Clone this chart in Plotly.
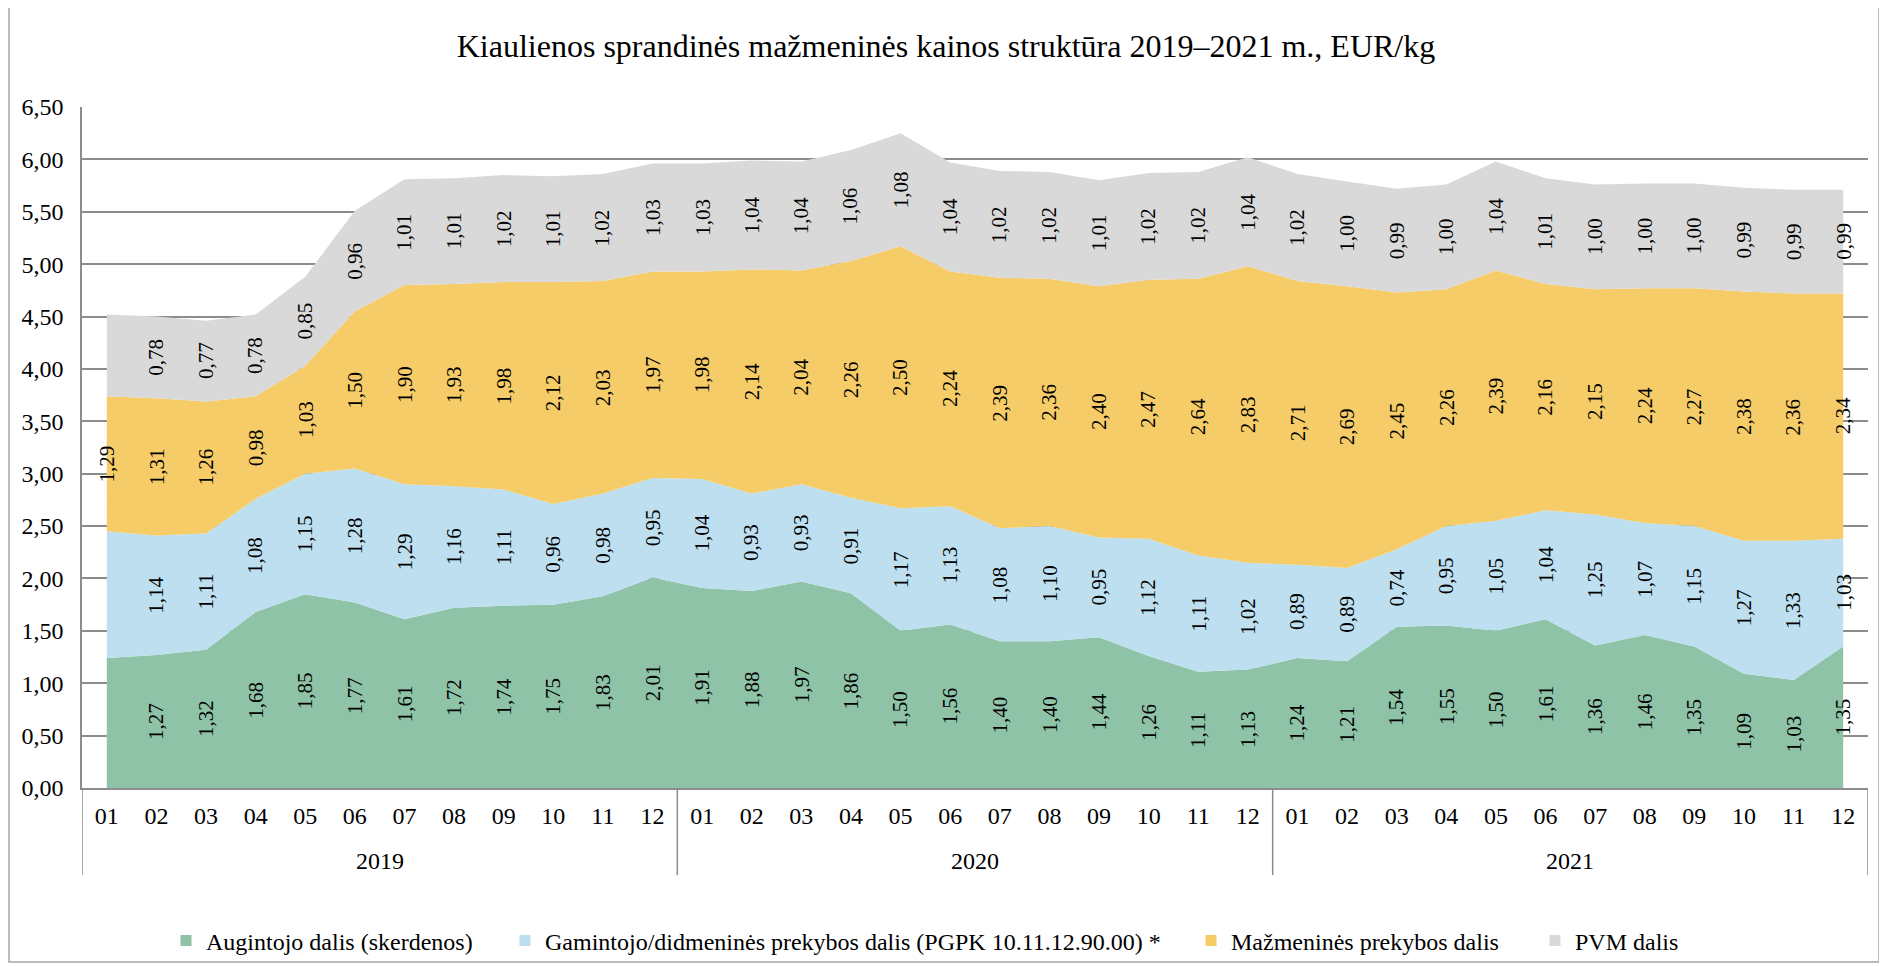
import plotly.graph_objects as go

# ---------------- data ----------------
years = ["2019", "2020", "2021"]
months = ["01", "02", "03", "04", "05", "06", "07", "08", "09", "10", "11", "12"]

series_names = [
    "Augintojo dalis (skerdenos)",
    "Gamintojo/didmeninės prekybos dalis (PGPK 10.11.12.90.00) *",
    "Mažmeninės prekybos dalis",
    "PVM dalis",
]

augintojo = [1.24, 1.27, 1.32, 1.68, 1.85, 1.77, 1.61, 1.72, 1.74, 1.75, 1.83, 2.01,
             1.91, 1.88, 1.97, 1.86, 1.50, 1.56, 1.40, 1.40, 1.44, 1.26, 1.11, 1.13,
             1.24, 1.21, 1.54, 1.55, 1.50, 1.61, 1.36, 1.46, 1.35, 1.09, 1.03, 1.35]
gamintojo = [1.21, 1.14, 1.11, 1.08, 1.15, 1.28, 1.29, 1.16, 1.11, 0.96, 0.98, 0.95,
             1.04, 0.93, 0.93, 0.91, 1.17, 1.13, 1.08, 1.10, 0.95, 1.12, 1.11, 1.02,
             0.89, 0.89, 0.74, 0.95, 1.05, 1.04, 1.25, 1.07, 1.15, 1.27, 1.33, 1.03]
mazmenines = [1.29, 1.31, 1.26, 0.98, 1.03, 1.50, 1.90, 1.93, 1.98, 2.12, 2.03, 1.97,
              1.98, 2.14, 2.04, 2.26, 2.50, 2.24, 2.39, 2.36, 2.40, 2.47, 2.64, 2.83,
              2.71, 2.69, 2.45, 2.26, 2.39, 2.16, 2.15, 2.24, 2.27, 2.38, 2.36, 2.34]
pvm = [0.78, 0.78, 0.77, 0.78, 0.85, 0.96, 1.01, 1.01, 1.02, 1.01, 1.02, 1.03,
       1.03, 1.04, 1.04, 1.06, 1.08, 1.04, 1.02, 1.02, 1.01, 1.02, 1.02, 1.04,
       1.02, 1.00, 0.99, 1.00, 1.04, 1.01, 1.00, 1.00, 1.00, 0.99, 0.99, 0.99]

# labels not shown in the reference (series index, point index)
hidden_labels = [(0, 0), (1, 0), (3, 0)]

y_ticks = [0, 0.5, 1, 1.5, 2, 2.5, 3, 3.5, 4, 4.5, 5, 5.5, 6, 6.5]

# ---------------- styling ----------------
colors = ["#8EC3A7", "#BDDFEF", "#F5CC67", "#D9D9D9"]
FONT = "Liberation Serif"
GRID = "#8C8C8C"

# page body has an 8px margin; figure is sized to fill the rest of the window
OFF = 8
W, H = 1887 - OFF, 966 - OFF
# plot area in page pixels
PL, PR, PT, PB = 82, 1868, 107, 788
L, R, T, B = PL - OFF, PR - OFF, PT - OFF, PB - OFF
pw, ph = R - L, B - T


def px_x(p):  # page px -> paper x
    return (p - OFF - L) / pw


def px_y(p):  # page px -> paper y
    return (B - (p - OFF)) / ph


def cx(p):  # page px -> container x
    return (p - OFF) / W


def cy(p):  # page px -> container y
    return 1 - (p - OFF) / H


# category keys (year-month) with month tick text
cats = [f"{y}-{m}" for y in years for m in months]
cat_text = [m for y in years for m in months]
all_series = [augintojo, gamintojo, mazmenines, pvm]
n = len(cats)

fig = go.Figure()
for name, vals, col in zip(series_names, all_series, colors):
    fig.add_trace(go.Scatter(
        x=cats, y=vals, name=name, mode="none", stackgroup="one",
        fill="tonexty", fillcolor=col, line=dict(width=0),
        showlegend=False, hoverinfo="skip",
    ))

# legend entries (square markers), each in its own legend for placement
legend_text_start = [211, 550, 1236, 1580]
for i, (name, col) in enumerate(zip(series_names, colors)):
    lg = "legend" if i == 0 else f"legend{i + 1}"
    fig.add_trace(go.Scatter(
        x=[cats[0]], y=[None], name=name, mode="markers",
        marker=dict(symbol="square", size=11, color=col),
        showlegend=True, legend=lg, hoverinfo="skip",
    ))

# data labels at the middle of each band
annotations = []
base = [0.0] * n
for si, vals in enumerate(all_series):
    for j in range(n):
        mid = base[j] + vals[j] / 2
        if (si, j) not in hidden_labels:
            annotations.append(dict(
                x=cats[j], y=mid, xref="x", yref="y",
                text=f"{vals[j]:.2f}".replace(".", ","),
                textangle=-90, showarrow=False,
                font=dict(family=FONT, size=21, color="#000000"),
            ))
    base = [b + v for b, v in zip(base, vals)]

# year group labels and group dividers
shapes = []
for gi, yr in enumerate(years):
    start = gi * len(months)
    annotations.append(dict(
        x=start + (len(months) - 1) / 2, y=px_y(861), xref="x", yref="paper",
        text=yr, showarrow=False, yanchor="middle",
        font=dict(family=FONT, size=24, color="#000000"),
    ))
for gi in range(len(years) + 1):
    xb = gi * len(months) - 0.5
    shapes.append(dict(
        type="line", xref="x", yref="paper", x0=xb, x1=xb,
        y0=px_y(875), y1=0, line=dict(color=GRID, width=1.5),
    ))

# outer chart border
shapes.append(dict(
    type="rect", xref="paper", yref="paper", layer="above",
    x0=px_x(9), x1=px_x(1879), y0=px_y(962), y1=px_y(4),
    line=dict(color="#A6A6A6", width=1.5), fillcolor="rgba(0,0,0,0)",
))

layout_legends = {}
for i, ts in enumerate(legend_text_start):
    key = "legend" if i == 0 else f"legend{i + 1}"
    layout_legends[key] = dict(
        x=cx(ts - 45), y=cy(941), xref="container", yref="container",
        xanchor="left", yanchor="middle", orientation="h",
        bgcolor="rgba(0,0,0,0)", borderwidth=0,
        font=dict(family=FONT, size=24, color="#000000"),
        itemwidth=30,
    )

fig.update_layout(
    width=W, height=H,
    margin=dict(l=L, r=W - R, t=T, b=H - B, pad=0, autoexpand=False),
    paper_bgcolor="white", plot_bgcolor="white",
    separators=", ",
    title=dict(
        text="Kiaulienos sprandinės mažmeninės kainos struktūra 2019–2021 m., EUR/kg",
        x=cx(946), xref="container", xanchor="center",
        y=cy(46), yref="container", yanchor="middle",
        font=dict(family=FONT, size=32, color="#000000"),
    ),
    annotations=annotations,
    shapes=shapes,
    **layout_legends,
)

fig.update_yaxes(
    range=[0, 6.5], tickvals=y_ticks, tickformat=".2f",
    showgrid=True, gridcolor=GRID, gridwidth=1.5,
    showline=True, linecolor=GRID, linewidth=1.5,
    zeroline=False, ticks="", ticklabelstandoff=12, automargin=False,
    tickfont=dict(family=FONT, size=24, color="#000000"),
)
fig.update_xaxes(
    type="category", range=[-0.5, n - 0.5],
    tickmode="array", tickvals=cats, ticktext=cat_text,
    showgrid=False, showline=True, linecolor=GRID, linewidth=1.5,
    ticks="", ticklabelstandoff=5, automargin=False,
    tickfont=dict(family=FONT, size=24, color="#000000"),
)

fig.write_html("out.html")
